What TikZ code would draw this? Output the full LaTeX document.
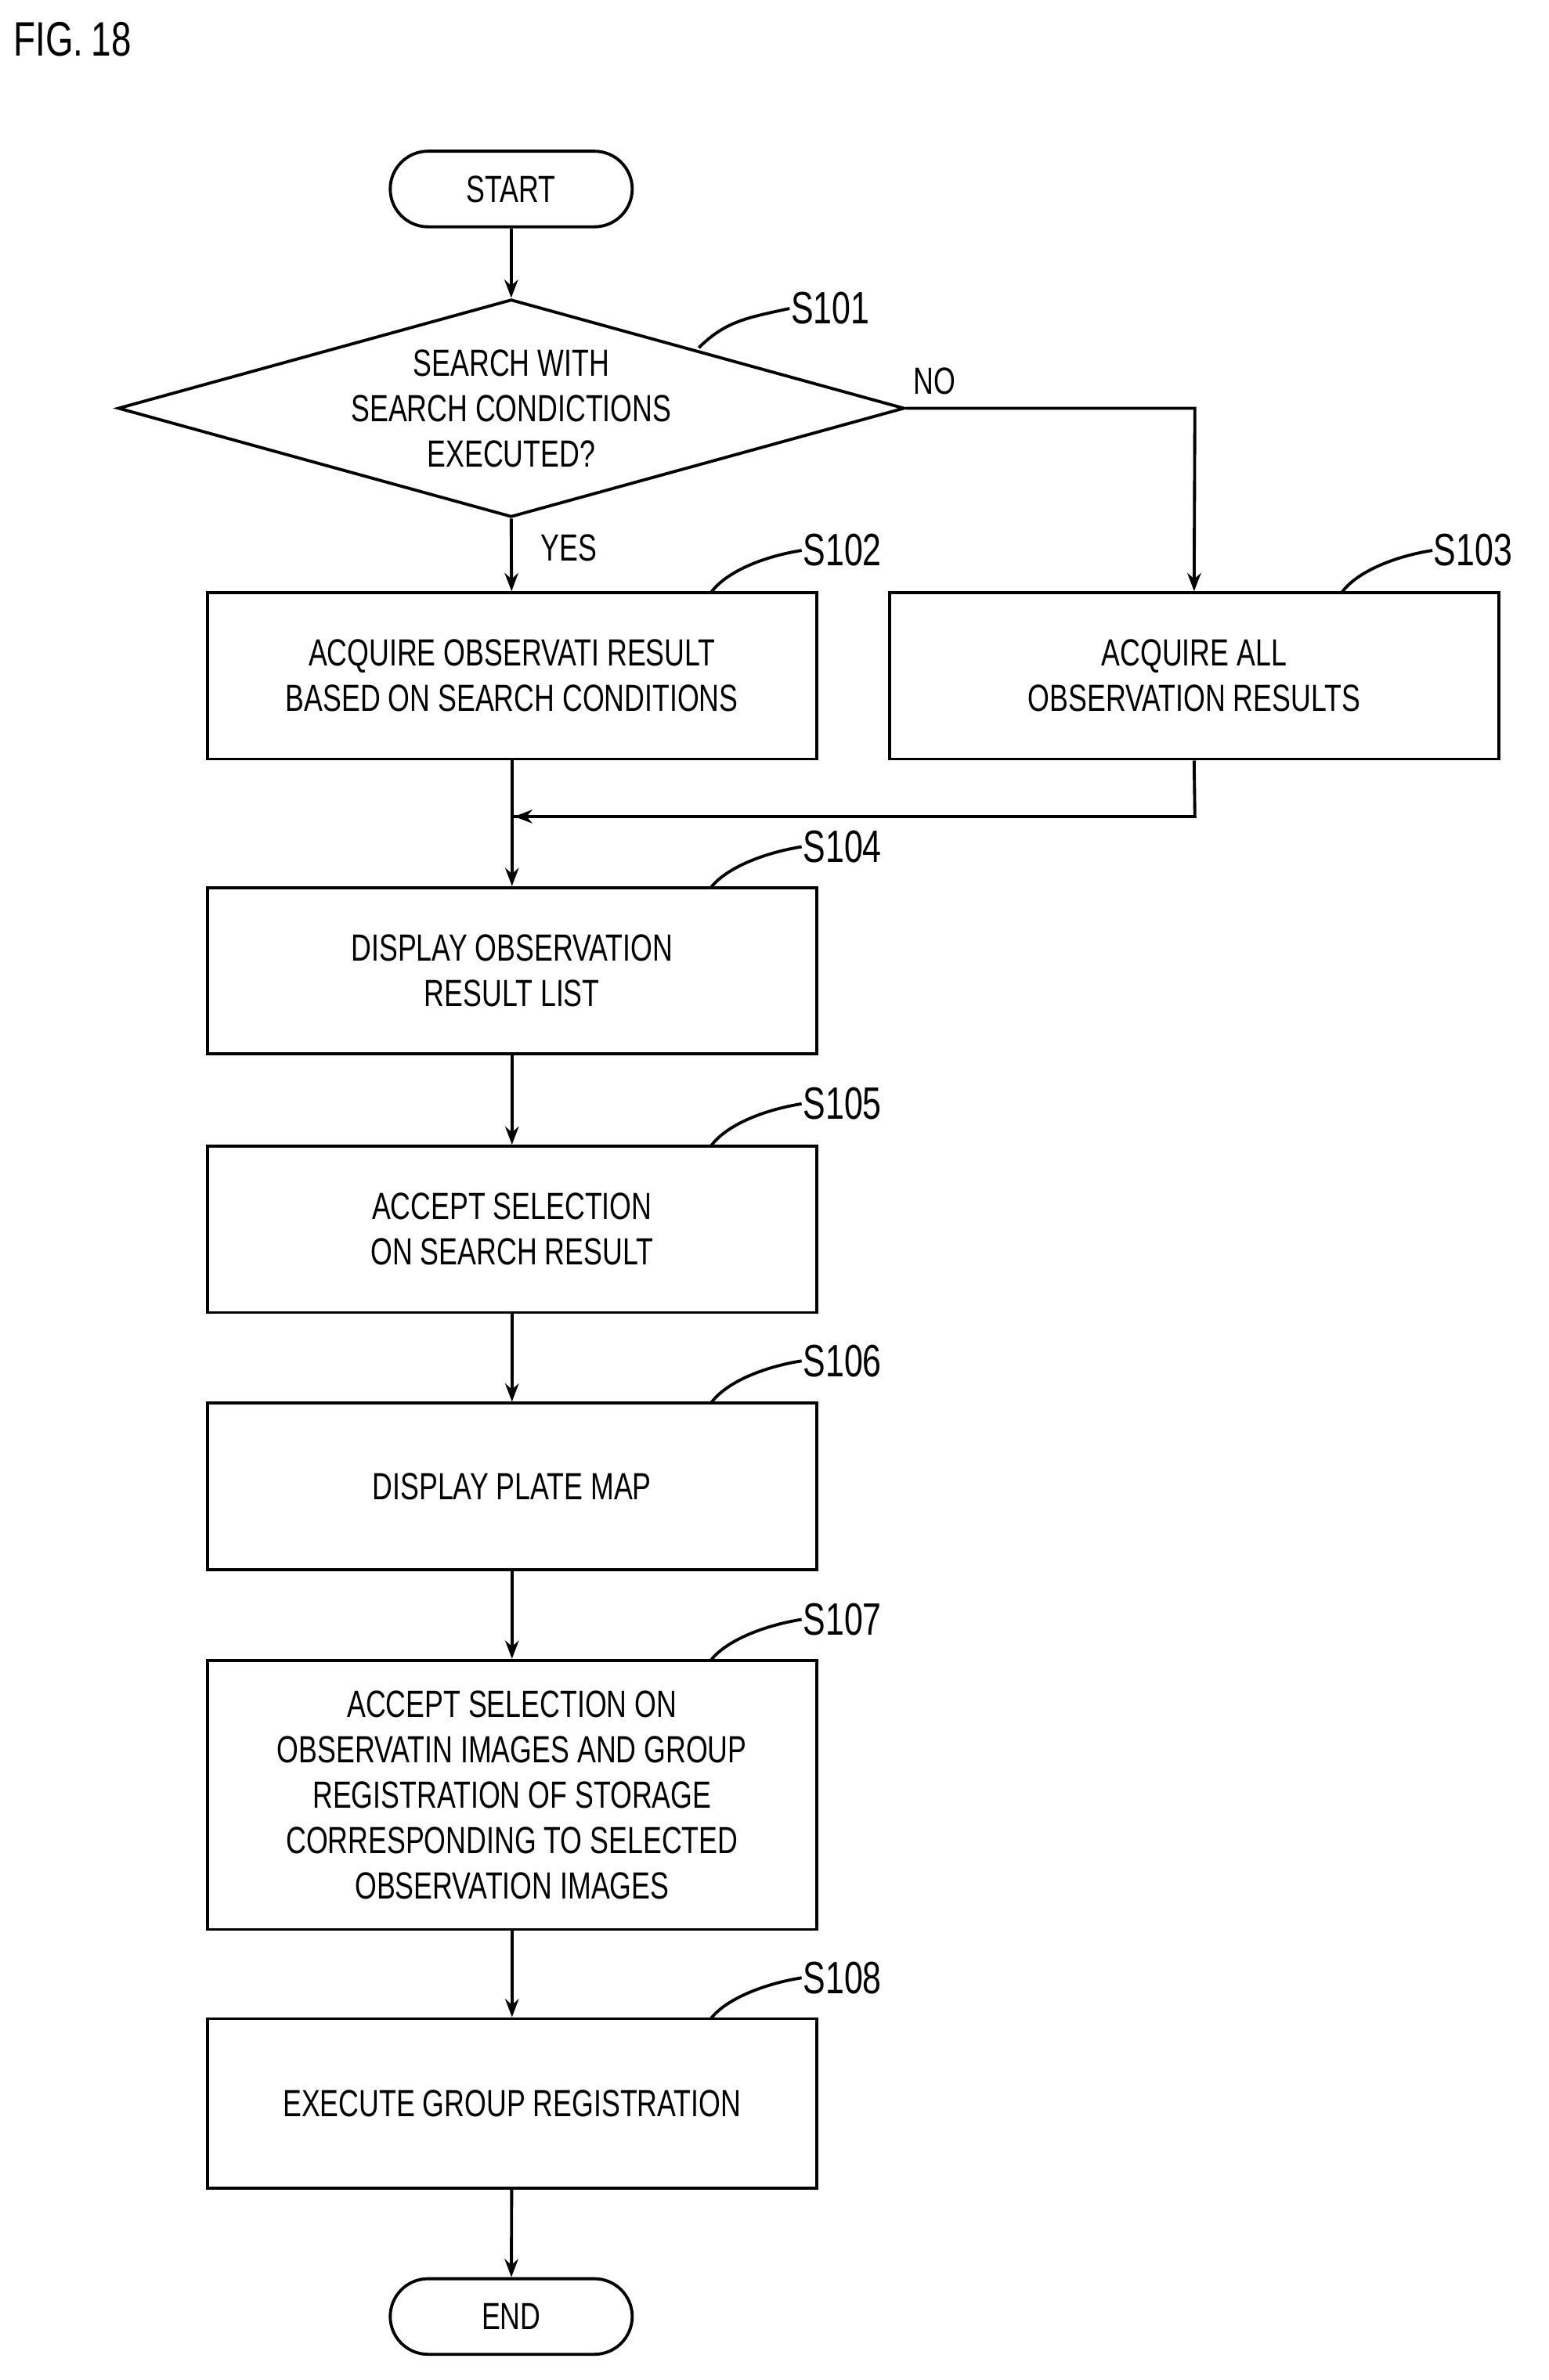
\documentclass[tikz,border=0pt]{standalone}
\usepackage{fontspec}
\setmainfont{Liberation Sans}[FakeStretch=0.74]
\usetikzlibrary{shapes.geometric,shapes.misc,arrows.meta}
\begin{document}
\begin{tikzpicture}[x=0.5pt,y=-0.5pt,line width=1pt,
  every node/.style={font=\fontsize{12.5}{15}\selectfont},
  box/.style={draw,rectangle,minimum width=201.5pt,minimum height=55pt,align=center,inner sep=2pt},
  term/.style={draw,rounded rectangle,minimum width=80pt,minimum height=25pt,inner sep=0pt},
  lab/.style={font=\fontsize{15}{18}\selectfont,anchor=west,inner sep=0pt},
  arr/.style={-{Stealth[length=6pt,width=4.5pt]}}]
\useasboundingbox (0,0) rectangle (1024,1574);
\node[anchor=west,inner sep=0pt,font=\fontsize{16}{18}\selectfont] (fig) at (8,26) {FIG.\,18};
\node[term] (start) at (338,125) {START};
\node[draw,diamond,aspect=3.6,minimum width=260pt,minimum height=72pt,inner sep=0pt,align=center] (d) at (338,270) {SEARCH WITH\\SEARCH CONDICTIONS\\EXECUTED?};
\node[box] (s102) at (338.5,447) {ACQUIRE OBSERVATI RESULT\\BASED ON SEARCH CONDITIONS};
\node[box] (s103) at (789.5,447) {ACQUIRE ALL\\OBSERVATION RESULTS};
\node[box] (s104) at (338.5,642) {DISPLAY OBSERVATION\\RESULT LIST};
\node[box] (s105) at (338.5,813) {ACCEPT SELECTION\\ON SEARCH RESULT};
\node[box] (s106) at (338.5,983) {DISPLAY PLATE MAP};
\node[box,minimum height=89pt] (s107) at (338.5,1187) {ACCEPT SELECTION ON\\OBSERVATIN IMAGES AND GROUP\\REGISTRATION OF STORAGE\\CORRESPONDING TO SELECTED\\OBSERVATION IMAGES};
\node[box,minimum height=56pt] (s108) at (338.5,1391) {EXECUTE GROUP REGISTRATION};
\node[term] (end) at (338,1532) {END};
\coordinate (c1) at (790,270);
\coordinate (c2) at (790,540);
\coordinate (c3) at (338,540);
\draw[arr] (start) -- (d.north);
\draw[arr] (d.south) -- (s102) node[pos=0.4,right=6pt] {YES};
\draw[arr] (d.east) -- (c1) -- (s103.north);
\node[anchor=south west,inner sep=0pt] (no) at (603,262) {NO};
\draw (s103.south) -- (c2) -- (c3);
\draw[arr] (c2) -- (340,540);
\draw[arr] (s102) -- (s104);
\draw[arr] (s104) -- (s105);
\draw[arr] (s105) -- (s106);
\draw[arr] (s106) -- (s107);
\draw[arr] (s107) -- (s108);
\draw[arr] (s108) -- (end);
% step labels
\node[lab] (l101) at (522,204) {S101};
\draw (462,230) .. controls (480,212) and (495,210) .. (l101.west);
\foreach \n/\y/\yb in {102/364/392,104/560/587,105/730/758,106/900/928,107/1071/1098,108/1308/1335}{
  \node[lab] (l\n) at (530,\y) {S\n};
  \draw (470,\yb) .. controls (480,\y+14) and (505,\y+4) .. (l\n.west);
}
\node[lab] (l103) at (947,364) {S103};
\draw (887,392) .. controls (897,378) and (922,368) .. (l103.west);
\end{tikzpicture}
\end{document}
